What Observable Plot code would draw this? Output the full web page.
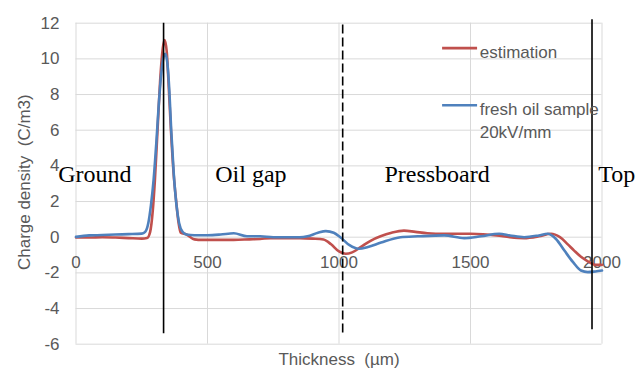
<!DOCTYPE html>
<html>
<head>
<meta charset="utf-8">
<script src="https://cdn.jsdelivr.net/npm/d3@7"></script>
<script src="https://cdn.jsdelivr.net/npm/@observablehq/plot@0.6"></script>
<style>
  html, body { margin: 0; padding: 0; background: #ffffff; }
</style>
</head>
<body>
<div id="chart"></div>
<script>
// ---- data ----
const estThickness = [0, 50, 100, 150, 200, 250, 270, 282, 292, 300, 310, 320, 330, 337, 345, 352, 361, 371, 381, 390, 398, 420, 450, 480, 550, 600, 660, 700, 740, 800, 850, 900, 941, 970, 1000, 1025, 1050, 1082, 1120, 1158, 1200, 1247, 1290, 1336, 1400, 1500, 1600, 1650, 1704, 1760, 1806, 1840, 1870, 1894, 1920, 1946, 1975, 2000];
const estimation   = [-0.02, -0.02, 0.0, -0.02, -0.05, -0.08, -0.05, 0.3, 1.5, 3.2, 6.0, 8.8, 10.6, 11.05, 10.4, 8.6, 6.0, 3.6, 2.0, 0.8, 0.25, 0.15, -0.12, -0.15, -0.15, -0.15, -0.12, -0.1, -0.05, -0.05, -0.05, -0.08, -0.13, -0.4, -0.8, -0.93, -0.85, -0.56, -0.2, 0.05, 0.25, 0.37, 0.3, 0.22, 0.19, 0.19, 0.1, 0.0, -0.05, 0.05, 0.19, 0.0, -0.4, -0.75, -1.1, -1.35, -1.55, -1.55];

const freshThickness = [0, 50, 100, 150, 200, 250, 263, 275, 285, 295, 305, 315, 325, 333, 340, 347, 355, 362, 372, 382, 392, 405, 420, 450, 500, 550, 600, 650, 700, 750, 800, 850, 880, 920, 950, 980, 1005, 1040, 1075, 1110, 1160, 1234, 1300, 1400, 1476, 1540, 1609, 1650, 1704, 1760, 1793, 1825, 1857, 1890, 1920, 1946, 1975, 2000];
const freshOil       = [0.02, 0.1, 0.12, 0.15, 0.17, 0.2, 0.3, 0.8, 1.8, 3.2, 5.2, 7.5, 9.3, 10.1, 10.28, 9.8, 8.2, 6.0, 3.5, 1.8, 0.8, 0.3, 0.15, 0.11, 0.11, 0.15, 0.22, 0.05, 0.05, 0.0, 0.0, 0.0, 0.05, 0.25, 0.34, 0.25, 0.0, -0.45, -0.65, -0.55, -0.3, 0.0, 0.05, 0.1, -0.05, 0.05, 0.19, 0.1, 0.0, 0.1, 0.19, -0.1, -0.75, -1.4, -1.87, -1.96, -1.92, -1.87];

const xTicks = [0, 500, 1000, 1500, 2000];
const yTicks = [-6, -4, -2, 0, 2, 4, 6, 8, 10, 12];

const seriesNames  = ["estimation", "fresh oil sample\n20kV/mm"];
const seriesColors = ["#c0504d", "#4f81bd"];

const regionNames  = ["Ground", "Oil gap", "Pressboard", "Top"];
const regionCenter = [72, 665, 1373, 2056];     // µm
const regionLevel  = 3.07;                      // C/m3

const interfaceAt     = [333, 1014, 1962];      // µm
const interfaceTop    = [12, 11.9, 12.19];
const interfaceBottom = [-5.42, -5.57, -5.19];
const interfaceDashed = [false, true, false];

const legendX1 = 1392, legendX2 = 1525, legendTextX = 1535;
const legendY  = [10.6, 7.4];

// ---- tables ----
const estData   = estThickness.map((x, i) => ({x, y: estimation[i]}));
const freshData = freshThickness.map((x, i) => ({x, y: freshOil[i]}));
const regions   = regionNames.map((name, i) => ({name, x: regionCenter[i], y: regionLevel}));
const ifaces    = interfaceAt.map((x, i) => ({x, y1: interfaceTop[i], y2: interfaceBottom[i], dashed: interfaceDashed[i]}));
const legend    = seriesNames.map((name, i) => ({name, color: seriesColors[i], y: legendY[i]}));

const grey = "#595959";
const sans = "Liberation Sans, Arial, sans-serif";
const serif = "Liberation Serif, Times New Roman, serif";

const chart = Plot.plot({
  width: 638,
  height: 368,
  marginLeft: 75.5,
  marginRight: 36.5,
  marginTop: 22.7,
  marginBottom: 24.3,
  style: {fontFamily: sans, fontSize: "17px", color: grey, background: "#ffffff", overflow: "visible"},
  x: {domain: [0, 2000], axis: null},
  y: {domain: [-6, 12], axis: null},
  marks: [
    Plot.gridY(yTicks, {stroke: "#d9d9d9", strokeOpacity: 1, strokeWidth: 1}),
    Plot.gridX(xTicks, {stroke: "#d9d9d9", strokeOpacity: 1, strokeWidth: 1}),
    // y tick labels
    Plot.text(yTicks, {x: 0, y: d => d, text: d => String(d), textAnchor: "end", dx: -16.5, fill: grey, fontSize: 17}),
    // x tick labels, placed below the zero line
    Plot.text(xTicks, {x: d => d, y: 0, text: d => String(d), dy: 25.5, fill: grey, fontSize: 17}),
    // series
    Plot.line(estData,   {x: "x", y: "y", stroke: seriesColors[0], strokeWidth: 2.6, curve: "monotone-x"}),
    Plot.line(freshData, {x: "x", y: "y", stroke: seriesColors[1], strokeWidth: 2.6, curve: "monotone-x"}),
    // interfaces
    Plot.ruleX(ifaces.filter(d => !d.dashed), {x: "x", y1: "y1", y2: "y2", stroke: "#000", strokeWidth: 1.6}),
    Plot.ruleX(ifaces.filter(d => d.dashed),  {x: "x", y1: "y1", y2: "y2", stroke: "#000", strokeWidth: 1.6, strokeDasharray: "9,4"}),
    // region labels
    Plot.text(regions, {x: "x", y: "y", text: "name", lineAnchor: "bottom", fontFamily: serif, fontSize: 24, fill: "#000"}),
    // legend
    Plot.link(legend, {x1: legendX1, x2: legendX2, y1: "y", y2: "y", stroke: "color", strokeWidth: 2.6}),
    Plot.text(legend, {x: legendTextX, y: "y", text: "name", textAnchor: "start", lineAnchor: "top", dy: -6.7, lineHeight: 1.353, fill: grey, fontSize: 17}),
    // axis titles
    Plot.text(["Thickness  (µm)"], {frameAnchor: "bottom", textAnchor: "middle", lineAnchor: "bottom", dy: 20.3, fill: grey, fontSize: 17}),
    Plot.text(["Charge density  (C/m3)"], {frameAnchor: "left", textAnchor: "middle", lineAnchor: "middle", rotate: -90, dx: -51, dy: -1.5, fill: grey, fontSize: 17})
  ]
});

document.getElementById("chart").appendChild(chart);
</script>
</body>
</html>
